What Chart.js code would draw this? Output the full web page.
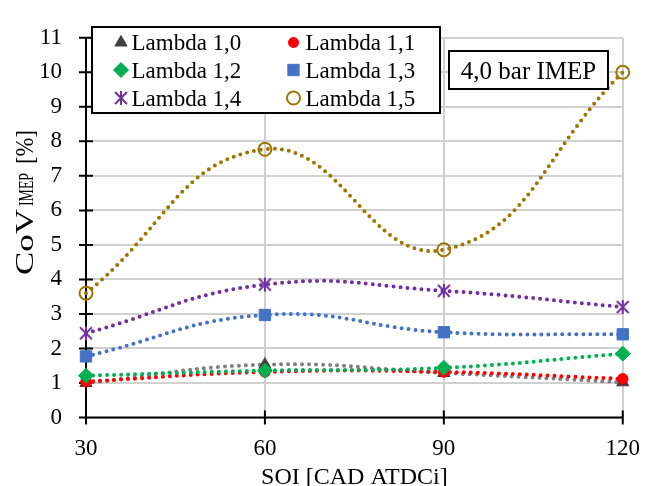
<!DOCTYPE html>
<html>
<head>
<meta charset="utf-8">
<script src="https://cdn.jsdelivr.net/npm/chart.js@4/dist/chart.umd.min.js"></script>
<style>
  html, body { margin: 0; padding: 0; background: #fff; }
</style>
</head>
<body>
<canvas id="cov" width="658" height="486"></canvas>
<script>
// --- data -------------------------------------------------------------
const soi = [30, 60, 90, 120];
const seriesNames = ['Lambda 1,0', 'Lambda 1,1', 'Lambda 1,2', 'Lambda 1,3', 'Lambda 1,4', 'Lambda 1,5'];
const lambda10 = [1.00, 1.53, 1.29, 1.02];
const lambda11 = [1.04, 1.32, 1.32, 1.12];
const lambda12 = [1.21, 1.36, 1.44, 1.85];
const lambda13 = [1.77, 2.97, 2.47, 2.41];
const lambda14 = [2.44, 3.85, 3.67, 3.20];
const lambda15 = [3.60, 7.77, 4.86, 10.00];
const loadLabel = '4,0 bar IMEP';

const SERIF = '"Liberation Serif", "Times New Roman", serif';

// excel-style star marker: X with a vertical stroke
function starMark(size, color) {
	const c = document.createElement('canvas');
	c.width = c.height = size;
	const g = c.getContext('2d');
	const m = size / 2, r = size / 2 - 1, d = r * 0.85;
	g.strokeStyle = color;
	g.lineWidth = 2;
	g.beginPath();
	g.moveTo(m, m - r);     g.lineTo(m, m + r);
	g.moveTo(m - d, m - d); g.lineTo(m + d, m + d);
	g.moveTo(m + d, m - d); g.lineTo(m - d, m + d);
	g.stroke();
	return c;
}

const styles = [
	{ line: '#7f7f7f', fill: '#404040', stroke: '#404040', shape: 'triangle', r: 7,   bw: 1 },
	{ line: '#ff0000', fill: '#ff0000', stroke: '#ff0000', shape: 'circle',   r: 5.3, bw: 1 },
	{ line: '#00b050', fill: '#00b050', stroke: '#00b050', shape: 'rectRot',  r: 7.5, bw: 1 },
	{ line: '#4472c4', fill: '#4472c4', stroke: '#4472c4', shape: 'rect',     r: 8,   bw: 1 },
	{ line: '#7030a0', fill: '#7030a0', stroke: '#7030a0', shape: starMark(16, '#7030a0'), r: 8, bw: 1 },
	{ line: '#9c7600', fill: 'rgba(0,0,0,0)', stroke: '#9c7600', shape: 'circle', r: 6.5, bw: 2 },
];

const values = [lambda10, lambda11, lambda12, lambda13, lambda14, lambda15];

const datasets = values.map((vals, i) => {
	const s = styles[i];
	return {
		label: seriesNames[i],
		data: soi.map((x, k) => ({ x, y: vals[k] })),
		borderColor: s.line,
		borderWidth: 4,
		borderDash: [0, 7],
		borderCapStyle: 'round',
		tension: 0.45,
		fill: false,
		clip: false,
		order: values.length - i,
		pointStyle: s.shape,
		pointRadius: s.r,
		pointHoverRadius: s.r,
		pointBackgroundColor: s.fill,
		pointBorderColor: s.stroke,
		pointBorderWidth: s.bw,
	};
});

// --- axes, legend box, label box, titles ------------------------------
const decor = {
	id: 'decor',
	beforeDatasetsDraw(chart) {
		const { ctx, chartArea: a, scales: { x, y } } = chart;
		ctx.save();
		ctx.strokeStyle = '#000';
		ctx.lineWidth = 2;
		ctx.beginPath();
		ctx.moveTo(a.left, a.top);     ctx.lineTo(a.left, a.bottom + 1);
		ctx.moveTo(a.left - 1, a.bottom); ctx.lineTo(a.right, a.bottom);
		// tick marks crossing the axes
		y.ticks.forEach(t => {
			const py = y.getPixelForValue(t.value);
			ctx.moveTo(a.left - 7, py); ctx.lineTo(a.left + 7, py);
		});
		x.ticks.forEach(t => {
			const px = x.getPixelForValue(t.value);
			ctx.moveTo(px, a.bottom - 7); ctx.lineTo(px, a.bottom + 7);
		});
		ctx.stroke();
		ctx.restore();
	},
	afterDraw(chart) {
		const { ctx } = chart;
		ctx.save();

		// y title: CoV + small IMEP + [%]
		ctx.translate(33, 275);
		ctx.rotate(-Math.PI / 2);
		ctx.fillStyle = '#000';
		ctx.textBaseline = 'alphabetic';
		[
			{ text: 'CoV',  font: `26px ${SERIF}`, from: 0,   to: 66 },
			{ text: 'IMEP', font: `20px ${SERIF}`, from: 69,  to: 102 },
			{ text: '[%]',  font: `25px ${SERIF}`, from: 111, to: 145 },
		].forEach(p => {
			ctx.font = p.font;
			const w = ctx.measureText(p.text).width;
			ctx.save();
			ctx.translate(p.from, 0);
			ctx.scale((p.to - p.from) / w, 1);
			ctx.fillText(p.text, 0, 0);
			ctx.restore();
		});
		ctx.setTransform(1, 0, 0, 1, 0, 0);

		// x title
		ctx.font = `24px ${SERIF}`;
		ctx.textAlign = 'center';
		ctx.fillText('SOI [CAD ATDCi]', (chart.chartArea.left + chart.chartArea.right) / 2, 483.5);

		// legend box
		ctx.fillStyle = '#fff';
		ctx.fillRect(92, 27, 348, 86);
		ctx.strokeStyle = '#000';
		ctx.lineWidth = 2;
		ctx.strokeRect(92, 27, 348, 86);
		ctx.font = `23px ${SERIF}`;
		ctx.textAlign = 'left';
		ctx.textBaseline = 'alphabetic';
		const rows = [50, 77.5, 105.5];
		const cols = [{ mark: 121, text: 131.5 }, { mark: 293.5, text: 305.5 }];
		seriesNames.forEach((name, i) => {
			const s = styles[i];
			const col = cols[i % 2], base = rows[Math.floor(i / 2)];
			ctx.fillStyle = s.fill;
			ctx.strokeStyle = s.stroke;
			ctx.lineWidth = s.bw;
			const r = s.shape === 'circle' && i === 1 ? 5 : s.r;
			Chart.helpers.drawPoint(ctx, { pointStyle: s.shape, radius: r, borderWidth: s.bw, rotation: 0 }, col.mark, base - 7.5);
			ctx.fillStyle = '#000';
			ctx.fillText(name, col.text, base);
		});

		// operating point label
		ctx.fillStyle = '#fff';
		ctx.fillRect(449, 51, 159, 38);
		ctx.strokeStyle = '#000';
		ctx.lineWidth = 2;
		ctx.strokeRect(449, 51, 159, 38);
		ctx.fillStyle = '#000';
		ctx.font = `25px ${SERIF}`;
		ctx.textAlign = 'center';
		ctx.fillText(loadLabel, 528.5, 78.5);

		ctx.restore();
	}
};

new Chart(document.getElementById('cov'), {
	type: 'line',
	data: { datasets },
	options: {
		responsive: false,
		animation: false,
		layout: { padding: { left: 0, right: 21, top: 22, bottom: 0 } },
		plugins: { legend: { display: false }, tooltip: { enabled: false } },
		scales: {
			x: {
				type: 'linear',
				min: 30, max: 120,
				afterFit(scale) { scale.height = 68.5; },
				grid: { color: '#d0d0d0', lineWidth: 2, drawTicks: false },
				border: { display: false },
				ticks: { stepSize: 30, padding: 18, color: '#000', font: { family: SERIF, size: 23 } },
			},
			y: {
				min: 0, max: 11,
				afterFit(scale) { scale.width = 86; },
				grid: { color: '#d0d0d0', lineWidth: 2, drawTicks: false },
				border: { display: false },
				ticks: { stepSize: 1, padding: 24, color: '#000', font: { family: SERIF, size: 23 } },
			}
		}
	},
	plugins: [decor]
});
</script>
</body>
</html>
